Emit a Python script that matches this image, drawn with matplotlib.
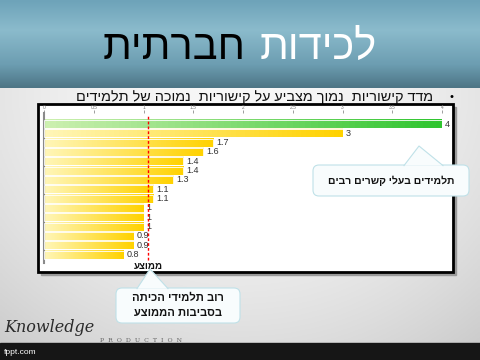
import numpy as np
import matplotlib
matplotlib.use('Agg')
import matplotlib.pyplot as plt
from matplotlib.patches import FancyBboxPatch, Rectangle, Polygon

plt.rcParams['font.family'] = ['Liberation Sans', 'DejaVu Sans']

# data
values = [4, 3, 1.7, 1.6, 1.4, 1.4, 1.3, 1.1, 1.1, 1, 1, 1, 0.9, 0.9, 0.8]
value_labels = ['4', '3', '1.7', '1.6', '1.4', '1.4', '1.3', '1.1', '1.1',
                '1', '1', '1', '0.9', '0.9', '0.8']
tick_vals = [0, 0.5, 1, 1.5, 2, 2.5, 3, 3.5, 4]
tick_labels = ['0', '0.5', '1', '1.5', '2', '2.5', '3', '3.5', '4']
mean_val = 1.05

title_black = 'חברתית'
title_white = 'לכידות'
bullet_text = 'מדד קישוריות  נמוך מצביע על קישוריות  נמוכה של תלמידים'
mean_label = 'ממוצע'
callout1 = 'תלמידים בעלי קשרים רבים'
callout2 = ['רוב תלמידי הכיתה', 'בסביבות הממוצע']


def rtl(s):
    # matplotlib has no bidi, flip Hebrew by hand
    return s[::-1]


def hex2rgb(h):
    h = h.lstrip('#')
    return [int(h[i:i + 2], 16) / 255 for i in (0, 2, 4)]


fig = plt.figure(figsize=(4.8, 3.6), dpi=100)

# background in pixel coords
bg = fig.add_axes([0, 0, 1, 1])
bg.set_xlim(0, 480)
bg.set_ylim(360, 0)
bg.axis('off')

# header gradient
stops_y = [0, 30, 65, 88]
stops_c = [hex2rgb(c) for c in ['#6ea3b9', '#8bbbcc', '#6c9db1', '#4d7585']]
yy = np.linspace(0, 88, 90)
head = np.stack([np.interp(yy, stops_y, [c[k] for c in stops_c]) for k in range(3)], axis=-1)
head = np.repeat(head[:, None, :], 2, axis=1)
bg.imshow(head, extent=[0, 480, 88, 0], aspect='auto', zorder=0)

# body gradient
gx, gy = np.meshgrid(np.linspace(-1, 1, 200), np.linspace(0, 1, 200))
shade = 0.97 - 0.07 * gx ** 2 - 0.1 * gy ** 2
body = np.dstack([shade, shade, shade])
bg.imshow(body, extent=[0, 480, 343, 88], aspect='auto', zorder=0)

# footer band
bg.add_patch(Rectangle((0, 343), 480, 17, color='#161616', zorder=1))
bg.text(4, 352, 'fppt.com', color='white', fontsize=6, va='center', ha='left', zorder=2)
bg.text(4, 328, 'Knowledge', family='DejaVu Serif', style='italic', fontsize=11.5,
        color='#2a2a2a', va='center', ha='left', zorder=2)
bg.text(100, 340, 'P  R  O  D  U  C  T  I  O  N', family='DejaVu Serif', fontsize=4.5,
        color='#666666', va='center', ha='left', zorder=2)

# title
bg.text(246, 48, rtl(title_black), fontsize=30, color='black', ha='right', va='center', zorder=2)
bg.text(260, 48, rtl(title_white), fontsize=30, color='white', ha='left', va='center', zorder=2)

# bullet line
bg.text(452, 97, '•', fontsize=8, ha='center', va='center', zorder=2)
bg.text(433, 97, rtl(bullet_text), fontsize=10.4, ha='right', va='center', color='#111111', zorder=2)

# chart frame with shadow
bg.add_patch(Rectangle((41, 107), 415, 168, color='#9a9a9a', zorder=2))
bg.add_patch(Rectangle((38, 104), 415, 168, facecolor='white', edgecolor='black',
                       linewidth=2, zorder=3))

# chart axes
ax = fig.add_axes([44 / 480, 1 - 263 / 360, 398 / 480, 150 / 360])
ax.patch.set_alpha(0)
n = len(values)
bar_h = 0.86
for i, v in enumerate(values):
    if i == 0:
        c0, c1 = hex2rgb('#cdf0b0'), hex2rgb('#2fc52f')
    else:
        c0, c1 = hex2rgb('#fff6b8'), hex2rgb('#ffd200')
    t = np.linspace(0, 1, 64)
    grad = np.array([[np.array(c0) * (1 - s) + np.array(c1) * s for s in t]])
    ax.imshow(grad, extent=[0, v, i + bar_h / 2, i - bar_h / 2], aspect='auto', zorder=2)
    ax.barh(i, v, height=bar_h, facecolor='none', edgecolor='white', linewidth=0.6, zorder=3)
    ax.text(v + 0.03, i, value_labels[i], fontsize=6.5, color='#333333', va='center',
            ha='left', zorder=4)
ax.set_xlim(0, 4)
ax.set_ylim(n - 1 + 0.91, -1.18)

ax.xaxis.tick_top()
ax.set_xticks(tick_vals)
ax.set_xticklabels(tick_labels)
ax.tick_params(axis='x', length=2, pad=0.5, labelsize=3.5, colors='#777777', width=0.5)
ax.set_yticks([])
for side in ['top', 'right', 'bottom']:
    ax.spines[side].set_visible(False)
ax.spines['left'].set_color('#8a8a8a')
ax.spines['left'].set_linewidth(1.5)

ax.axvline(mean_val, ymin=0.02, ymax=0.98, color='red', linestyle=(0, (2, 1.5)),
           linewidth=1, zorder=5)
ax.annotate(rtl(mean_label), xy=(mean_val, -0.02), xycoords=('data', 'axes fraction'),
            fontsize=7, fontweight='bold', ha='center', va='center', color='#111111',
            annotation_clip=False)

# callouts on top
ov = fig.add_axes([0, 0, 1, 1])
ov.set_xlim(0, 480)
ov.set_ylim(360, 0)
ov.axis('off')
ov.patch.set_alpha(0)

fill = '#f8fcfd'
edge = '#bfe1e8'


def callout(x0, y0, x1, y1, tip, base_l, base_r):
    ov.add_patch(FancyBboxPatch((x0, y0), x1 - x0, y1 - y0,
                                boxstyle='round,pad=0,rounding_size=6',
                                facecolor=fill, edgecolor=edge, linewidth=0.8))
    ov.add_patch(Polygon([base_l, tip, base_r], closed=True, facecolor=fill,
                         edgecolor='none'))
    ov.plot([base_l[0], tip[0], base_r[0]], [base_l[1], tip[1], base_r[1]],
            color=edge, linewidth=0.8)


callout(313, 165, 469, 196, (419, 146), (404, 165.6), (443, 165.6))
ov.text(391, 181, rtl(callout1), fontsize=7.5, fontweight='bold', ha='center',
        va='center', color='#111111')

callout(116, 288, 240, 323, (150, 269), (137, 288.6), (168, 288.6))
ov.text(178, 298, rtl(callout2[0]), fontsize=8, fontweight='bold', ha='center',
        va='center', color='#111111')
ov.text(178, 313, rtl(callout2[1]), fontsize=8, fontweight='bold', ha='center',
        va='center', color='#111111')

fig.savefig('out.png', dpi=100)
